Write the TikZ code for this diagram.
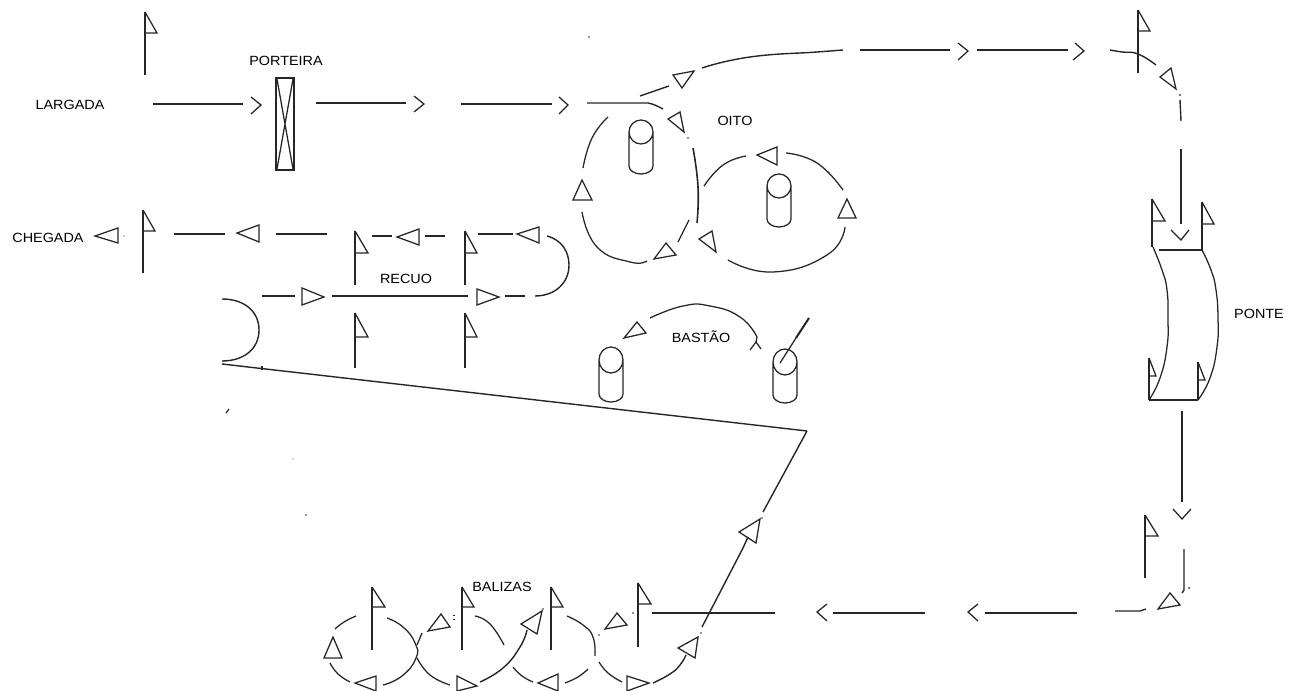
\documentclass[tikz,border=0pt]{standalone}
\usepackage{fontspec}
\setmainfont{Liberation Sans}
\newcommand{\flagp}[5]{\draw[ln] (#1,#2) -- (#1,#5); \draw[thn] (#1,#2) -- (#3,#4) -- (#1,#4);}
\newcommand{\cylp}[4]{% cx, top, topsidey, bottom
  \draw[thn] (#1-12,#3) arc[start angle=180,end angle=360,x radius=12,y radius=#3-#2]
     arc[start angle=0,end angle=180,x radius=12,y radius=#3-#2] -- (#1-12,#4-8)
     arc[start angle=180,end angle=0,x radius=12,y radius=8] -- (#1+12,#3);}
\newcommand{\tri}[6]{\draw[thn] (#1,#2) -- (#3,#4) -- (#5,#6) -- cycle;}
\newcommand{\chev}[6]{\draw[thn] (#1,#2) -- (#3,#4) -- (#5,#6);}
\tikzset{
  ln/.style={line width=1.05pt,black!85},
  thn/.style={line width=0.95pt,black!85},
  sm/.style={smooth,tension=0.85},
  lbl/.style={font=\fontsize{10}{12}\selectfont,text=black,inner sep=0pt,xscale=1.08,transform shape},
}
\begin{document}
\begin{tikzpicture}[x=0.75pt,y=-0.75pt,line join=miter]
\useasboundingbox (0,0) rectangle (1300,691);
% labels
\node[lbl] (largada) at (70,105) {LARGADA};
\node[lbl] (porteira) at (286,61) {PORTEIRA};
\node[lbl] (chegada) at (48,238) {CHEGADA};
\node[lbl] (recuo) at (406,279) {RECUO};
\node[lbl] (oito) at (735,121) {OITO};
\node[lbl] (bastao) at (701,337) {BASTÃO};
\node[lbl] (ponte) at (1259,314) {PONTE};
\node[lbl] (balizas) at (502,587) {BALIZAS};
% largada
\flagp{145}{12}{157}{33}{75}
\draw[ln] (153,104) -- (243,104);
\chev{251}{97}{261}{105}{251}{114}
\draw[thn] (276,78) rectangle (294,170);
\draw[thn] (277,79) -- (293,169) (293,79) -- (277,169);
\draw[ln] (316,103) -- (406,103);
\chev{414}{96}{424}{104}{414}{112}
\draw[ln] (461,104) -- (552,104);
\chev{559}{97}{568}{105}{559}{114}
\draw[ln] (587,103) -- (648,103) .. controls (654,104) and (659,107) .. (663,109);
% upper curve
\draw[ln] (640,96) -- (669,86);
\tri{673}{75}{694}{71}{682}{88}
\draw[ln] plot[sm] coordinates {(702,68) (750,57) (817,52) (843,50)};
\draw[ln] (860,50) -- (950,50);
\chev{958}{43}{968}{51}{958}{60}
\draw[ln] (977,50) -- (1068,50);
\chev{1075}{43}{1084}{51}{1073}{60}
\flagp{1138}{10}{1150}{31}{73}
\draw[ln] plot[sm] coordinates {(1110,50) (1122,52) (1138,54) (1156,65)};
\tri{1160}{77}{1171}{68}{1176}{89}
\draw[ln] (1180,94) -- (1180,96) (1180,100) -- (1181,121);
\draw[ln] (1181,149) -- (1181,224);
\chev{1171}{230}{1181}{240}{1189}{230}
% ponte
\flagp{1152}{199}{1165}{221}{247}
\flagp{1202}{202}{1214}{224}{250}
\draw[ln] (1159,250) -- (1202,250);
\draw[thn] plot[sm] coordinates {(1153,247) (1162,270) (1167,290) (1168,318) (1167,347) (1160,378) (1149,400)};
\draw[thn] plot[sm] coordinates {(1202,250) (1211,270) (1216,290) (1218,318) (1217,347) (1210,378) (1198,400)};
\draw[ln] (1149,400) -- (1198,400);
\flagp{1149}{358}{1156}{376}{400}
\flagp{1198}{362}{1205}{380}{400}
% descent
\draw[ln] (1182,411) -- (1182,502);
\chev{1173}{509}{1182}{519}{1191}{509}
\flagp{1145}{515}{1158}{536}{578}
\draw[ln] (1184,549) -- (1184,590) -- (1182,593);
\fill[black!85] (1189,588) circle (1);
\tri{1158}{609}{1170}{593}{1180}{605}
\draw[ln] (1115,611) -- (1140,611) -- (1146,609);
\draw[ln] (985,613) -- (1077,613);
\chev{978}{604}{968}{612}{978}{621}
\draw[ln] (833,613) -- (925,613);
\chev{827}{604}{817}{612}{827}{621}
\draw[ln] (652,613) -- (775,613);
% long diagonals
\draw[ln] (807,431) -- (763,512);
\fill[black!85] (762,518) circle (0.8);
\tri{739}{532}{760}{519}{756}{543}
\draw[ln] (743,548) -- (748,537);
\draw[ln] (743,548) -- (702,627);
\fill[black!85] (701,633) circle (0.8);
\draw[ln] (222,364) -- (807,431);
\draw[thn] (262,366) -- (262,370);
% balizas
\flagp{372}{587}{385}{607}{650}
\flagp{462}{587}{474}{607}{650}
\flagp{551}{587}{563}{607}{650}
\flagp{638}{583}{651}{604}{647}
\draw[thn] plot[sm] coordinates {(335,629) (344,622) (356,616)};
\draw[thn] plot[sm] coordinates {(387,618) (403,627) (415,643) (416,658) (402,676) (383,685)};
\tri{324}{658}{342}{658}{333}{637}
\draw[thn] plot[sm] coordinates {(330,663) (338,674) (350,682)};
\tri{355}{683}{376}{676}{376}{691}
\draw[thn] (417,645) -- (422,633);
\draw[thn] plot[sm] coordinates {(417,658) (430,675) (450,685)};
\tri{457}{676}{477}{686}{457}{691}
\tri{428}{631}{441}{614}{450}{627}
\draw[thn] (454,615) -- (454,616) (454,619) -- (454,620);
\draw[thn] plot[sm] coordinates {(475,616) (490,624) (504,645)};
\draw[ln] plot[sm] coordinates {(480,682) (503,668) (520,647) (527,630)};
\tri{521}{624}{542}{611}{537}{634}
\fill[black!85] (543,609) circle (0.8);
\draw[thn] plot[sm] coordinates {(567,616) (583,625) (593,637) (595,656)};
\draw[thn] plot[sm] coordinates {(588,669) (578,677) (565,683)};
\tri{538}{683}{558}{674}{558}{691}
\draw[thn] plot[sm] coordinates {(513,667) (522,676) (533,682)};
\draw[thn] plot[sm] coordinates {(599,662) (608,673) (622,682)};
\tri{627}{676}{649}{683}{627}{691}
\draw[ln] plot[sm] coordinates {(653,683) (670,674) (680,665) (686,655)};
\tri{678}{648}{698}{637}{695}{658}
\fill[black!85] (599,635) circle (0.8);
\tri{605}{629}{617}{613}{627}{625}
\fill[black!85] (633,613) circle (0.8);
% chegada / recuo
\tri{95}{236}{118}{228}{118}{243}
\fill[black!85] (124,236) circle (0.6);
\flagp{143}{210}{155}{231}{273}
\draw[ln] (174,234) -- (225,234);
\tri{237}{233}{259}{225}{259}{242}
\draw[ln] (276,234) -- (327,234);
\flagp{355}{231}{368}{253}{285}
\draw[ln] (372,236) -- (392,236);
\tri{397}{237}{419}{229}{419}{245}
\draw[ln] (425,236) -- (445,236);
\flagp{465}{231}{477}{253}{285}
\draw[ln] (478,234) -- (513,234);
\tri{517}{234}{539}{227}{539}{243}
\draw[ln] (547,236) .. controls (562,240) and (569,252) .. (569,265) .. controls (569,283) and (555,296) .. (535,296);
\draw[ln] (505,296) -- (525,296);
\tri{477}{289}{499}{297}{477}{305}
\draw[ln] (332,296) -- (468,296);
\tri{302}{288}{324}{297}{302}{305}
\draw[ln] (262,296) -- (295,296);
\flagp{355}{313}{368}{337}{368}
\flagp{465}{313}{477}{337}{368}
\draw[ln] (222,299) .. controls (245,299) and (259,312) .. (259,330) .. controls (259,348) and (245,361) .. (222,361);
\draw[thn] (226,413) -- (229,409);
\fill[black!70] (293,459) circle (0.7);
\fill[black!85] (306,515) circle (0.9);
\fill[black!85] (589,37) circle (0.8);
% oito
\cylp{641}{120}{132}{174}
\cylp{779}{174}{186}{227}
\draw[thn] plot[sm] coordinates {(608,117) (592,138) (583,168)};
\tri{573}{200}{592}{200}{582}{180}
\draw[thn] plot[sm] coordinates {(582,212) (597,247) (630,262) (647,261)};
\tri{654}{259}{666}{243}{676}{255}
\draw[thn] (678,242) -- (689,220);
\draw[line width=1.2pt,black!85] plot[sm] coordinates {(693,148) (698,187) (697,223)};
\tri{668}{119}{680}{112}{684}{132}
\fill[black!85] (688,138) circle (0.8);
\draw[thn] plot[sm] coordinates {(704,186) (723,165) (746,156)};
\tri{757}{155}{777}{147}{777}{165}
\draw[thn] plot[sm] coordinates {(786,153) (817,163) (843,190)};
\tri{838}{218}{856}{218}{847}{199}
\draw[thn] plot[sm] coordinates {(845,227) (827,255) (773,272) (728,260)};
\tri{699}{239}{712}{231}{716}{252}
% bastao
\cylp{611}{347}{360}{402}
\cylp{785}{349}{362}{403}
\draw[thn] plot[sm] coordinates {(650,318) (683,306) (710,306) (740,317) (757,337)};
\chev{750}{350}{756}{342}{761}{349}
\draw[thn] (756,342) -- (757,337);
\tri{624}{338}{637}{322}{646}{333}
\draw[thn] (780,363) -- (796,338);
\draw[line width=1.5pt,black!85] (796,338) -- (809,318);
\end{tikzpicture}
\end{document}
